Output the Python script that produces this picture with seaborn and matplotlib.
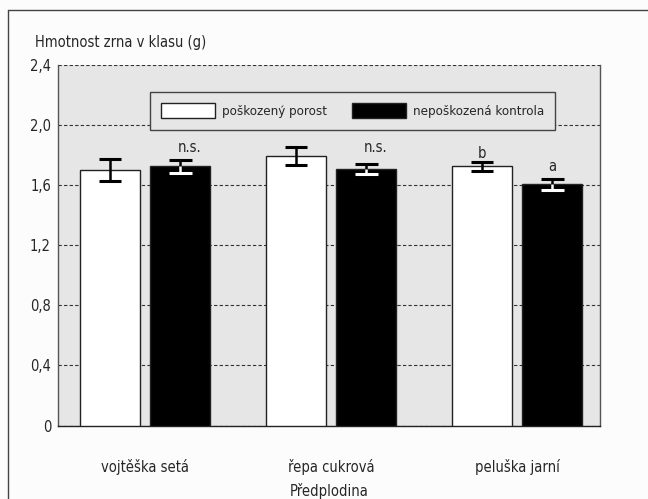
import matplotlib
matplotlib.use("Agg")
import matplotlib.pyplot as plt
import seaborn as sns
import pandas as pd
import numpy as np
from matplotlib.lines import Line2D

categories = ["vojtěška setá", "řepa cukrová", "peluška jarní"]
series = ["poškozený porost", "nepoškozená kontrola"]
damaged = [1.70, 1.795, 1.725]
damaged_err = [0.075, 0.060, 0.032]
control = [1.725, 1.705, 1.605]
control_err = [0.045, 0.033, 0.035]
ytick_vals = [0, 0.4, 0.8, 1.2, 1.6, 2.0, 2.4]
ytick_labels = ["0", "0,4", "0,8", "1,2", "1,6", "2,0", "2,4"]
letters_damaged = ["", "", "b"]
letters_control = ["n.s.", "n.s.", "a"]

df = pd.DataFrame({
    "Předplodina": categories * 2,
    "skupina": [series[0]] * 3 + [series[1]] * 3,
    "hodnota": damaged + control,
})

sns.set_style("white")
plt.rcParams["font.family"] = ["DejaVu Sans"]
plt.rcParams["font.stretch"] = "condensed"
plt.rcParams["font.size"] = 10

fig = plt.figure(figsize=(6.48, 4.99), dpi=100, facecolor="#fcfcfc")
ax = fig.add_axes([58/648, 1-425.5/499, (600-58)/648, (425.5-65)/499])
ax.set_facecolor("#e6e6e6")

sns.barplot(data=df, x="Předplodina", y="hodnota", hue="skupina",
            hue_order=series, order=categories,
            palette={series[0]: "white", series[1]: "black"},
            edgecolor="#222222", linewidth=1.0, width=0.76, gap=0.15,
            errorbar=None, ax=ax, zorder=3)

# error bars
cap = 0.06
bars = ax.patches[:6]
vals = damaged + control
errs = damaged_err + control_err
for i, p in enumerate(bars):
    xc = p.get_x() + p.get_width() / 2
    v, e = vals[i], errs[i]
    up_col = "black"
    low_col = "black" if i < 3 else "white"
    ax.plot([xc, xc], [v, v + e], color=up_col, lw=1.8, zorder=5, solid_capstyle="butt")
    ax.plot([xc - cap, xc + cap], [v + e, v + e], color=up_col, lw=2.2, zorder=5, solid_capstyle="butt")
    ax.plot([xc, xc], [v - e, v], color=low_col, lw=1.8, zorder=5, solid_capstyle="butt")
    ax.plot([xc - cap, xc + cap], [v - e, v - e], color=low_col, lw=2.2, zorder=5, solid_capstyle="butt")

# letters
for i in range(3):
    if letters_damaged[i]:
        ax.text(i - 0.19, damaged[i] + damaged_err[i] + 0.005, letters_damaged[i],
                ha="center", va="bottom", fontsize=10.5)
    if letters_control[i]:
        if letters_control[i] == "n.s.":
            ax.text(i + 0.24, 1.80, letters_control[i], ha="center", va="bottom", fontsize=10.5)
        else:
            ax.text(i + 0.19, control[i] + control_err[i] + 0.035, letters_control[i],
                    ha="center", va="bottom", fontsize=10.5)

xl = (-0.468, 2.446)
ax.set_xlim(*xl)
ax.set_ylim(0, 2.4)
ax.set_yticks(ytick_vals)
ax.set_yticklabels(ytick_labels)
ax.set_xticks([0, 1, 2])
ax.set_xticklabels(categories)
ax.set_xticks([xl[0], 0.5, 1.5, xl[1]], minor=True)
ax.tick_params(axis="x", which="major", length=0, pad=24, labelsize=10.5)
ax.tick_params(axis="x", which="minor", length=9, width=1, color="#333333", direction="out")
ax.tick_params(axis="y", length=4, width=1, color="#333333", direction="out", pad=1, labelsize=10.5)
ax.set_ylabel("")
ax.set_xlabel("Předplodina", fontsize=10.5, labelpad=6)

ax.yaxis.grid(True, linestyle=(0, (3, 2)), color="#333333", linewidth=0.8)
ax.set_axisbelow(True)
ax.spines["top"].set_visible(False)
for s in ["left", "right"]:
    ax.spines[s].set_color("#555555")
    ax.spines[s].set_linewidth(1.0)
ax.spines["bottom"].set_color("#222222")
ax.spines["bottom"].set_linewidth(1.0)

leg = ax.legend(loc="upper left", bbox_to_anchor=(0.170, 0.925), borderaxespad=0, ncol=2,
                handlelength=4.1, handleheight=1.4, columnspacing=1.9,
                handletextpad=0.5, borderpad=0.85, frameon=True, fancybox=False,
                fontsize=9.5, title=None)
leg.get_frame().set_edgecolor("#444444")
leg.get_frame().set_facecolor("#e6e6e6")
leg.get_frame().set_alpha(1)
leg.get_frame().set_linewidth(1.0)

fig.text(35/648, 1-42/499, "Hmotnost zrna v klasu (g)", ha="left", va="center", fontsize=10.5)

fig.add_artist(Line2D([8/648, 8/648], [0, 1-10/499], transform=fig.transFigure, color="#444444", lw=1))
fig.add_artist(Line2D([8/648, 1], [1-10/499, 1-10/499], transform=fig.transFigure, color="#444444", lw=1))

fig.savefig("out.png", dpi=100, facecolor=fig.get_facecolor())
